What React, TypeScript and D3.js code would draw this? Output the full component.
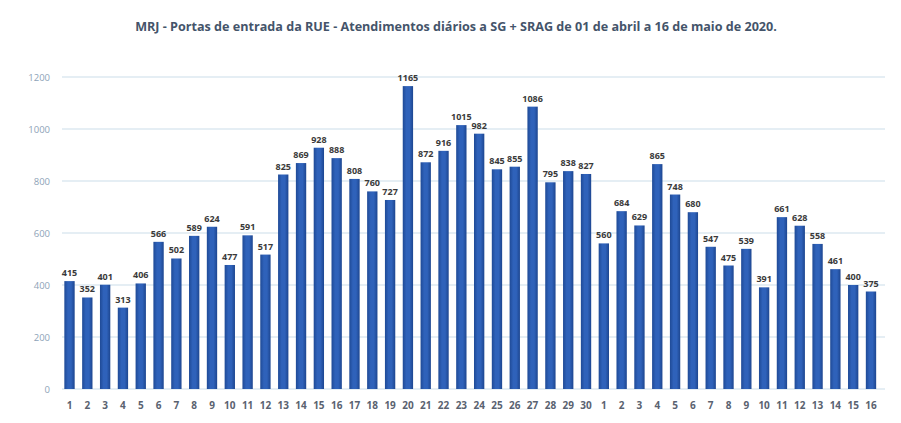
import React from "react";
import * as d3 from "d3";

const title = "MRJ - Portas de entrada da RUE - Atendimentos diários a SG + SRAG de 01 de abril a 16 de maio de 2020.";
const aprilDays = Array.from({ length: 30 }, (_, i) => String(i + 1));
const mayDays = Array.from({ length: 16 }, (_, i) => String(i + 1));
const aprilValues = [415, 352, 401, 313, 406, 566, 502, 589, 624, 477, 591, 517, 825, 869, 928, 888, 808, 760, 727, 1165, 872, 916, 1015, 982, 845, 855, 1086, 795, 838, 827];
const mayValues = [560, 684, 629, 865, 748, 680, 547, 475, 539, 391, 661, 628, 558, 461, 400, 375];
const yTicks = [0, 200, 400, 600, 800, 1000, 1200];

const W = 901;
const H = 423;

export default function App() {
  const labels = [...aprilDays, ...mayDays];
  const values = [...aprilValues, ...mayValues];
  const keys = labels.map((_, i) => String(i));

  const x = d3.scaleBand<string>().domain(keys).range([60.6, 879.9]).paddingInner(0.42).paddingOuter(0.21);
  const y = d3.scaleLinear().domain([0, 1200]).range([389, 77]);

  return (
    <svg width={W} height={H} style={{ position: "absolute", left: 0, top: 0, background: "#fff" }}>
      <defs>
        <linearGradient id="barg" x1="0" x2="1" y1="0" y2="0">
          <stop offset="0" stopColor="#1f4a96" />
          <stop offset="0.35" stopColor="#2f62ba" />
          <stop offset="0.65" stopColor="#2f62ba" />
          <stop offset="1" stopColor="#1d4690" />
        </linearGradient>
      </defs>
      <rect x={0} y={0} width={W} height={H} fill="#fff" />
      <text x={456} y={31} textAnchor="middle" fontFamily="'Open Sans', sans-serif" fontWeight="bold" fontSize={12.6} fill="#44546a">
        {title}
      </text>
      {yTicks.map((t) => (
        <g key={t}>
          <line x1={62} x2={885} y1={y(t)} y2={y(t)} stroke="#dde8f0" strokeWidth={1.5} />
          <text x={50} y={y(t) + 3.5} textAnchor="end" fontFamily="'Open Sans', sans-serif" fontSize={9.5} fill="#8ea3b8">
            {t}
          </text>
        </g>
      ))}
      {values.map((v, i) => {
        const bx = x(keys[i])!;
        const bw = x.bandwidth();
        return (
          <g key={i}>
            <rect x={bx} y={y(v)} width={bw} height={y(0) - y(v)} fill="url(#barg)" />
            <text x={bx + bw / 2} y={y(v) - 5} textAnchor="middle" fontFamily="'Open Sans', sans-serif" fontWeight="bold" fontSize={9} fill="#3a3a3a">
              {v}
            </text>
            <text x={bx + bw / 2} y={409} textAnchor="middle" fontFamily="'Open Sans', sans-serif" fontWeight="bold" fontSize={10} fill="#5a6270">
              {labels[i]}
            </text>
          </g>
        );
      })}
    </svg>
  );
}
